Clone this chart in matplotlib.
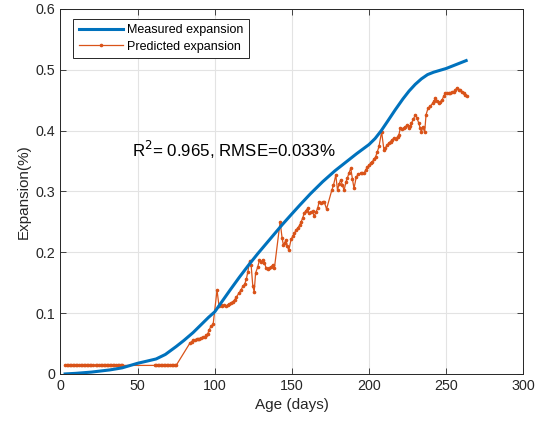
import matplotlib
matplotlib.use("Agg")
import matplotlib.pyplot as plt

plt.rcParams['font.family'] = ['Liberation Sans', 'DejaVu Sans']

# measured expansion (smooth curve)
meas_days = [3, 10, 20, 32, 40, 50, 56, 62, 68, 75, 80, 86, 92, 96, 100, 105, 110,
             116, 122, 128, 135, 140, 144, 150, 155, 162, 170, 178, 185, 192, 200,
             204, 208, 212, 217, 222, 226, 230, 234, 238, 242, 246, 250, 256, 263]
meas_exp = [0.0, 0.001, 0.003, 0.0066, 0.01, 0.0175, 0.021, 0.0246, 0.032, 0.045,
            0.055, 0.068, 0.083, 0.093, 0.102, 0.12, 0.138, 0.159, 0.179, 0.198, 0.219,
            0.234, 0.246, 0.263, 0.277, 0.296, 0.316, 0.334, 0.348, 0.362, 0.377,
            0.387, 0.4, 0.415, 0.434, 0.452, 0.465, 0.476, 0.485, 0.492, 0.496,
            0.499, 0.502, 0.508, 0.515]

# predicted expansion (model output, noisy)
pred_days = [3, 4, 5, 6, 7, 8, 9, 10, 11, 12, 13, 14, 15, 16, 17, 18, 19, 20, 21,
             23, 24, 25, 26, 27, 28, 29, 30, 31, 32, 33, 34, 35, 36, 37, 38, 39, 40,
             61, 62, 63, 64, 65, 66, 67, 68, 69, 70, 71, 72, 73, 74, 75,
             84, 85, 86, 87, 88.2, 89, 90, 91, 92.5, 93.5,
             94.6, 95.5, 96.3, 97.5,
             99, 101.5, 102.8, 104, 105, 106, 107.5, 108.5, 109.5, 110.7,
             111.8, 112.9, 114, 115.7, 117, 118.3, 119.5, 120.5, 121.5, 122.6,
             123.6, 124.7, 125.6, 126.5, 127.8, 129, 130, 131.2, 132.2, 133.3,
             134.4, 135.5, 136.5, 137.6, 138.7, 142.4, 143.7, 144.5, 145.4, 146.2,
             147.1, 148, 149.5, 150.5, 151.6, 152.7, 153.8, 155, 156, 157,
             158, 159, 160.2, 161.3, 162.3, 163.4, 164.5, 165.6, 166.7, 167.7,
             168.8, 170, 171, 172.5, 175.9, 177, 178.5, 179.6, 180.6, 181.7,
             182.8, 183.9, 185, 186, 187, 188.2, 189.3, 190.3, 191.8, 193,
             194.6, 195.7, 196.8, 198, 199, 200, 201, 202.2, 203.3, 204.3,
             205.4, 206.5, 208.2, 209.7, 210.7, 211.8, 213, 214, 215, 216.1,
             217.3, 218.5, 219.4, 220.4, 221.5, 222.6, 223.6, 224.7, 225.8, 226.6,
             227.5, 228.8, 230.1, 231.2, 232.3, 233.2, 234, 235, 236.1, 237,
             238.3, 239.8, 241.3, 242.2, 243, 244.1, 245.2, 246.2, 247.3, 248.4,
             249.5, 250.6, 251.6, 252.7, 253.7, 254.8, 255.9, 257, 258.5, 259.3,
             260.2, 261.3, 262.4, 263.4]
pred_exp = [0.014, 0.014, 0.014, 0.014, 0.014, 0.014, 0.014, 0.014, 0.014, 0.014,
            0.014, 0.014, 0.014, 0.014, 0.014, 0.014, 0.014, 0.014, 0.014,
            0.014, 0.014, 0.014, 0.014, 0.014, 0.014, 0.014, 0.014, 0.014, 0.014,
            0.014, 0.014, 0.014, 0.014, 0.014, 0.014, 0.014, 0.014,
            0.014, 0.014, 0.014, 0.014, 0.014, 0.014, 0.014, 0.014, 0.014, 0.014,
            0.014, 0.014, 0.014, 0.014, 0.014,
            0.051, 0.053, 0.055, 0.056, 0.057, 0.058, 0.058, 0.059, 0.06, 0.061,
            0.064, 0.066, 0.072, 0.078,
            0.082, 0.138, 0.111, 0.114, 0.112, 0.113, 0.111, 0.113, 0.115, 0.117,
            0.119, 0.122, 0.126, 0.133, 0.138, 0.144, 0.148, 0.156, 0.168, 0.185,
            0.179, 0.144, 0.135, 0.166, 0.175, 0.187, 0.184, 0.188, 0.183, 0.174,
            0.172, 0.174, 0.176, 0.179, 0.174, 0.25, 0.223, 0.212, 0.216, 0.22,
            0.21, 0.203, 0.221, 0.226, 0.231, 0.236, 0.24, 0.244, 0.25, 0.256,
            0.264, 0.268, 0.272, 0.264, 0.266, 0.267, 0.259, 0.266, 0.272, 0.283,
            0.281, 0.283, 0.283, 0.271, 0.302, 0.31, 0.327, 0.302, 0.312, 0.319,
            0.31, 0.302, 0.315, 0.322, 0.33, 0.338, 0.32, 0.305, 0.324, 0.328,
            0.33, 0.331, 0.33, 0.336, 0.34, 0.343, 0.346, 0.349, 0.353, 0.357,
            0.365, 0.374, 0.398, 0.368, 0.372, 0.376, 0.38, 0.382, 0.385, 0.387,
            0.386, 0.39, 0.393, 0.405, 0.403, 0.404, 0.406, 0.409, 0.404, 0.407,
            0.412, 0.419, 0.426, 0.42, 0.412, 0.404, 0.398, 0.406, 0.397, 0.426,
            0.437, 0.44, 0.445, 0.448, 0.453, 0.449, 0.445, 0.447, 0.45, 0.456,
            0.462, 0.462, 0.462, 0.462, 0.463, 0.464, 0.466, 0.47, 0.467, 0.466,
            0.464, 0.462, 0.459, 0.457]

blue = '#0072BD'
orange = '#D95319'

fig = plt.figure(figsize=(5.35, 4.23), dpi=100)
ax = fig.add_axes([0.113, 0.116, 0.865, 0.863])

ax.plot(meas_days, meas_exp, color=blue, linewidth=2.2, label='Measured expansion',
        zorder=3)
ax.plot(pred_days, pred_exp, color=orange, linewidth=0.9, marker='.', markersize=3.2,
        label='Predicted expansion', zorder=2)

ax.set_xlim(0, 300)
ax.set_ylim(0, 0.6)
ax.set_xticks([0, 50, 100, 150, 200, 250, 300])
ax.set_yticks([0, 0.1, 0.2, 0.3, 0.4, 0.5, 0.6])
ax.set_yticklabels(['0', '0.1', '0.2', '0.3', '0.4', '0.5', '0.6'])
ax.tick_params(direction='in', top=True, right=True, labelsize=10.3,
               colors='#262626', length=4, width=0.6)
ax.grid(True, color='#e3e3e3', linewidth=0.8)
ax.set_axisbelow(True)
for s in ax.spines.values():
    s.set_color('#262626')
    s.set_linewidth(0.7)

ax.set_xlabel('Age (days)', fontsize=11, color='#262626')
ax.set_ylabel('Expansion(%)', fontsize=11, color='#262626')

ax.text(46.5, 0.368, 'R$^2$= 0.965, RMSE=0.033%', fontsize=12.2, va='center',
        ha='left')

leg = ax.legend(loc='upper left', bbox_to_anchor=(0.028, 0.973), fontsize=9,
                fancybox=False, framealpha=1, edgecolor='#262626',
                handlelength=3.5, borderpad=0.45, labelspacing=0.35,
                handletextpad=0.35, borderaxespad=0)
leg.get_frame().set_linewidth(0.7)

fig.savefig('out.png', dpi=100)
